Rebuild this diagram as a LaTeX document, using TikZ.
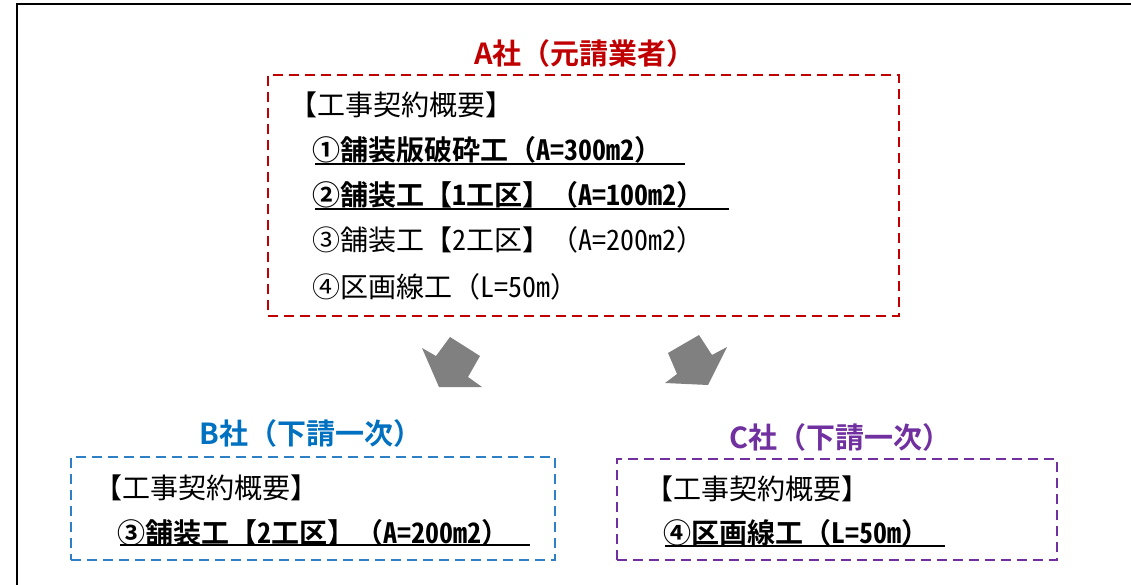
\documentclass[tikz,border=0pt]{standalone}
\usepackage{fontspec}
\setmainfont{Noto Sans CJK JP}[BoldFont={Noto Sans CJK JP Bold}]
\newcommand\hwtext[1]{{\addfontfeatures{RawFeature=+hwid}#1}}
\definecolor{ared}{HTML}{C00000}
\definecolor{bblue}{HTML}{0070C0}
\definecolor{bdash}{HTML}{2E7FC6}
\definecolor{cpurple}{HTML}{7030A0}
\definecolor{arrowgray}{HTML}{808080}
\begin{document}
\begin{tikzpicture}[x=1pt,y=-1pt,
  ttl/.style={font=\fontsize{29}{29}\selectfont\bfseries, inner sep=0, anchor=base},
  txt/.style={font=\fontsize{28}{28}\selectfont, inner sep=0, anchor=base west},
  btxt/.style={font=\fontsize{28}{28}\selectfont\bfseries, inner sep=0, anchor=base west},
  dbox/.style={line width=2.4pt, dash pattern=on 10pt off 6pt, inner sep=0},
  uline/.style={line width=1.6pt},
  garrow/.style={fill=arrowgray, draw=none}]
\useasboundingbox (0,0) rectangle (1131,585);
% outer frame
\draw[line width=2pt] (17,585) -- (17,4) -- (1131,4);

% A
\node[ttl, text=ared] (ta) at (585,65) {A社（元請業者）};
\node[dbox, draw=ared, minimum width=631pt, minimum height=241pt] (boxA) at (583.5,195.5) {};
\node[txt] (ah) at (289,116) {【工事契約概要】};
\node[btxt] (a1) at (312,161) {①舗装版破砕工（\hwtext{A=300m2}）};
\node[btxt] (a2) at (312,206) {②舗装工【\hwtext{1}工区】（\hwtext{A=100m2}）};
\node[txt] (a3) at (312,251) {③舗装工【\hwtext{2}工区】（\hwtext{A=200m2}）};
\node[txt] (a4) at (312,297) {④区画線工（\hwtext{L=50m}）};
\draw[uline] (315,164) -- (685,164);
\draw[uline] (315,209) -- (729,209);

% arrows
\fill[garrow] (422,348) -- (436,356) -- (450,337) -- (480,356) -- (468,377) -- (482,387) -- (439,387) -- cycle;
\fill[garrow] (665,383) -- (677,374) -- (668,353) -- (699,335) -- (712,355) -- (727,347) -- (708,385) -- cycle;

% B
\node[ttl, text=bblue] (tb) at (311,444) {B社（下請一次）};
\node[dbox, draw=bdash, minimum width=484pt, minimum height=103pt] (boxB) at (313,508.5) {};
\node[txt] (bh) at (94,498) {【工事契約概要】};
\node[btxt] (b1) at (117,543) {③舗装工【\hwtext{2}工区】（\hwtext{A=200m2}）};
\draw[uline] (120,545) -- (530,545);

% C
\node[ttl, text=cpurple] (tc) at (840,448) {C社（下請一次）};
\node[dbox, draw=cpurple, minimum width=440pt, minimum height=101pt] (boxC) at (837,509.5) {};
\node[txt] (ch) at (645,499) {【工事契約概要】};
\node[btxt] (c1) at (663,543) {④区画線工（\hwtext{L=50m}）};
\draw[uline] (665,546) -- (945,546);
\end{tikzpicture}
\end{document}
